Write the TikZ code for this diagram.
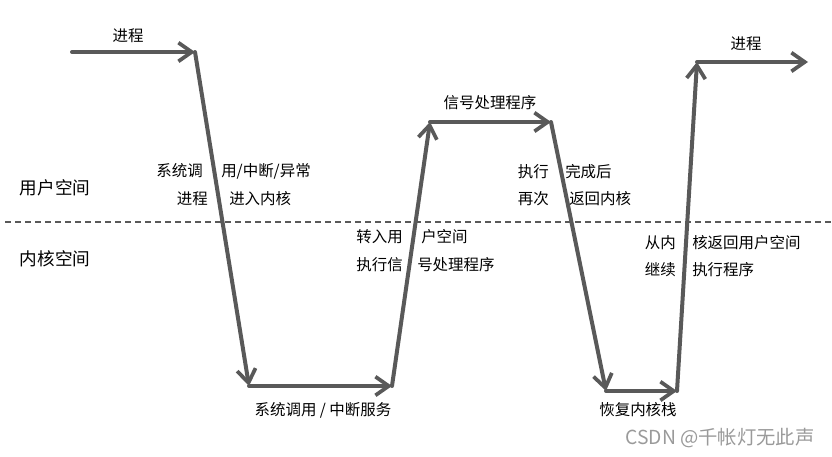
\documentclass[tikz,border=0pt]{standalone}
\usepackage{fontspec}
\setmainfont{Noto Sans CJK SC}
\usetikzlibrary{arrows.meta, positioning}
\definecolor{flowgray}{HTML}{595959}
\definecolor{marktext}{HTML}{9A9A9A}

\begin{document}
\begin{tikzpicture}[
    x=0.75pt, y=-0.75pt,
    flow/.style={-{Straight Barb[length=10pt, width=14pt, line width=2.8pt]},
                 line width=3pt, color=flowgray, line cap=round},
    border/.style={dashed, line width=1.5pt, color=flowgray, dash pattern=on 4.5pt off 3pt},
    tag/.style={font=\fontsize{11.6}{13}\selectfont, inner sep=0pt},
    zone/.style={font=\fontsize{13.2}{15}\selectfont, inner sep=0pt}
]
\useasboundingbox (0,0) rectangle (832,457);

% Path of the process
\coordinate (p0) at (72,52);
\coordinate (p1) at (195,52);
\coordinate (p2) at (249,386);
\coordinate (p3) at (392,386);
\coordinate (p4) at (430,122);
\coordinate (p5) at (551,122);
\coordinate (p6) at (606,391);
\coordinate (p7) at (677,391);
\coordinate (p8) at (697,62);
\coordinate (p9) at (808,62);

% Boundary between user and kernel space
\coordinate (b0) at (5,222);
\coordinate (b1) at (832,222);
\draw[border] (b0) -- (b1);
\node[zone] (user) at (55,188) {用户空间};
\node[zone] (kernel) at (55,259) {内核空间};

% Arrows
\draw[flow] (p0) -- (p1);
\draw[flow] (p1) -- (p2);
\draw[flow] (p2) -- (p3);
\draw[flow] (p3) -- (p4);
\draw[flow] (p4) -- (p5);
\draw[flow] (p5) -- (p6);
\draw[flow] (p6) -- (p7);
\draw[flow] (p7) -- (p8);
\draw[flow] (p8) -- (p9);

% Labels on the horizontal arrows
\node[tag] (proc1) at (128,36) {进程};
\node[tag] (sysserv) at (323,410) {系统调用 / 中断服务};
\node[tag] (handler) at (490,103) {信号处理程序};
\node[tag] (restore) at (638,410) {恢复内核栈};
\node[tag] (proc2) at (746,44) {进程};

% Labels split by the slanted arrows
\node[tag, anchor=east] (sysL) at (203,171) {系统调};
\node[tag, anchor=west] (sysR) at (221,171) {用/中断/异常};
\node[tag, anchor=east] (entL) at (208,199) {进程};
\node[tag, anchor=west] (entR) at (229,199) {进入内核};

\node[tag, anchor=east] (toL) at (403,237) {转入用};
\node[tag, anchor=west] (toR) at (421,237) {户空间};
\node[tag, anchor=east] (runL) at (403,265) {执行信};
\node[tag, anchor=west] (runR) at (417,265) {号处理程序};

\node[tag, anchor=east] (doneL) at (549,172) {执行};
\node[tag, anchor=west] (doneR) at (565,172) {完成后};
\node[tag, anchor=east] (backL) at (549,199) {再次};
\node[tag, anchor=west] (backR) at (569,199) {返回内核};

\node[tag, anchor=east] (fromL) at (676,243) {从内};
\node[tag, anchor=west] (fromR) at (692,243) {核返回用户空间};
\node[tag, anchor=east] (contL) at (676,270) {继续};
\node[tag, anchor=west] (contR) at (692,270) {执行程序};

% Watermark
\node[tag, text=marktext, font=\fontsize{14.5}{16}\selectfont] (mark) at (720,438) {CSDN @千帐灯无此声};
\end{tikzpicture}
\end{document}
